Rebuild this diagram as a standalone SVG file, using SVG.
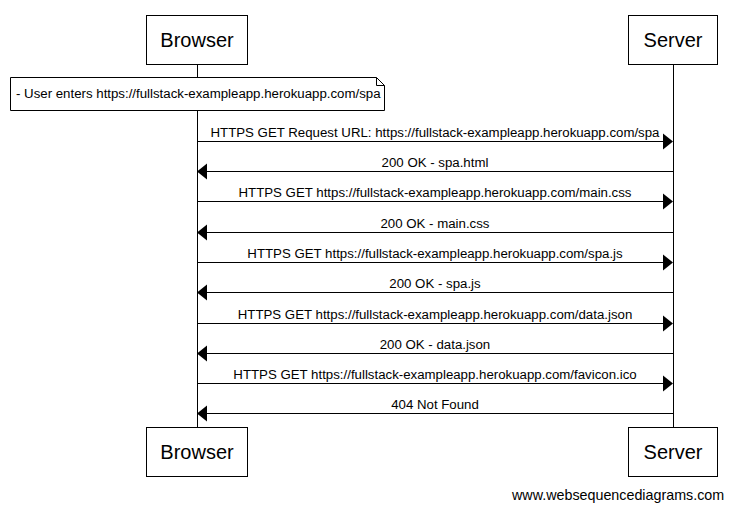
<svg xmlns="http://www.w3.org/2000/svg" width="732" height="510" viewBox="0 0 732 510">
<style>
.box{fill:#fff;stroke:#000;stroke-width:1}
.life{stroke:#000;stroke-width:1}
.msg{stroke:#000;stroke-width:1;fill:none}
.head{fill:#000}
.title{font-family:"Liberation Sans",Arial,sans-serif;font-size:20px;text-anchor:middle;fill:#000}
.lbl{font-family:"Liberation Sans",Arial,sans-serif;font-size:13.25px;text-anchor:middle;fill:#000}
.note{font-family:"Liberation Sans",Arial,sans-serif;font-size:13.25px;fill:#000}
.foot{font-family:"Liberation Sans",Arial,sans-serif;font-size:14.3px;fill:#000}
</style>
<rect width="732" height="510" fill="#fff"/>
<g id="lifelines">
<line class="life" x1="197.5" y1="64" x2="197.5" y2="427"/>
<line class="life" x1="673.5" y1="64" x2="673.5" y2="427"/>
</g>
<g id="browser-top"><rect class="box" x="146.5" y="15.5" width="101" height="49"/><text class="title" x="197" y="47">Browser</text></g>
<g id="server-top"><rect class="box" x="628.5" y="15.5" width="89" height="49"/><text class="title" x="673" y="47">Server</text></g>
<g id="browser-bottom"><rect class="box" x="146.5" y="427.5" width="101" height="49"/><text class="title" x="197" y="459">Browser</text></g>
<g id="server-bottom"><rect class="box" x="628.5" y="427.5" width="89" height="49"/><text class="title" x="673" y="459">Server</text></g>
<g id="note">
<path class="box" d="M10.5,77.5 H376.5 L384.5,85.5 V110.5 H10.5 Z"/>
<path class="msg" d="M376.5,77.5 V85.5 H384.5"/>
<text class="note" x="16" y="98">- User enters https://fullstack-exampleapp.herokuapp.com/spa</text>
</g>
<g id="connectors">
<line class="msg" x1="197" y1="141.5" x2="664" y2="141.5"/><polygon class="head" points="673,141.5 663,133.5 663,149.5"/>
<text class="lbl" x="435" y="137">HTTPS GET Request URL: https://fullstack-exampleapp.herokuapp.com/spa</text>
<line class="msg" x1="673" y1="171.5" x2="206" y2="171.5"/><polygon class="head" points="197,171.5 207,163.5 207,179.5"/>
<text class="lbl" x="435" y="167">200 OK - spa.html</text>
<line class="msg" x1="197" y1="201.5" x2="664" y2="201.5"/><polygon class="head" points="673,201.5 663,193.5 663,209.5"/>
<text class="lbl" x="435" y="197">HTTPS GET https://fullstack-exampleapp.herokuapp.com/main.css</text>
<line class="msg" x1="673" y1="232.5" x2="206" y2="232.5"/><polygon class="head" points="197,232.5 207,224.5 207,240.5"/>
<text class="lbl" x="435" y="228">200 OK - main.css</text>
<line class="msg" x1="197" y1="262.5" x2="664" y2="262.5"/><polygon class="head" points="673,262.5 663,254.5 663,270.5"/>
<text class="lbl" x="435" y="258">HTTPS GET https://fullstack-exampleapp.herokuapp.com/spa.js</text>
<line class="msg" x1="673" y1="292.5" x2="206" y2="292.5"/><polygon class="head" points="197,292.5 207,284.5 207,300.5"/>
<text class="lbl" x="435" y="288">200 OK - spa.js</text>
<line class="msg" x1="197" y1="323.5" x2="664" y2="323.5"/><polygon class="head" points="673,323.5 663,315.5 663,331.5"/>
<text class="lbl" x="435" y="319">HTTPS GET https://fullstack-exampleapp.herokuapp.com/data.json</text>
<line class="msg" x1="673" y1="353.5" x2="206" y2="353.5"/><polygon class="head" points="197,353.5 207,345.5 207,361.5"/>
<text class="lbl" x="435" y="349">200 OK - data.json</text>
<line class="msg" x1="197" y1="383.5" x2="664" y2="383.5"/><polygon class="head" points="673,383.5 663,375.5 663,391.5"/>
<text class="lbl" x="435" y="379">HTTPS GET https://fullstack-exampleapp.herokuapp.com/favicon.ico</text>
<line class="msg" x1="673" y1="413.5" x2="206" y2="413.5"/><polygon class="head" points="197,413.5 207,405.5 207,421.5"/>
<text class="lbl" x="435" y="409">404 Not Found</text>
</g>
<text class="foot" x="512" y="500">www.websequencediagrams.com</text>
</svg>
